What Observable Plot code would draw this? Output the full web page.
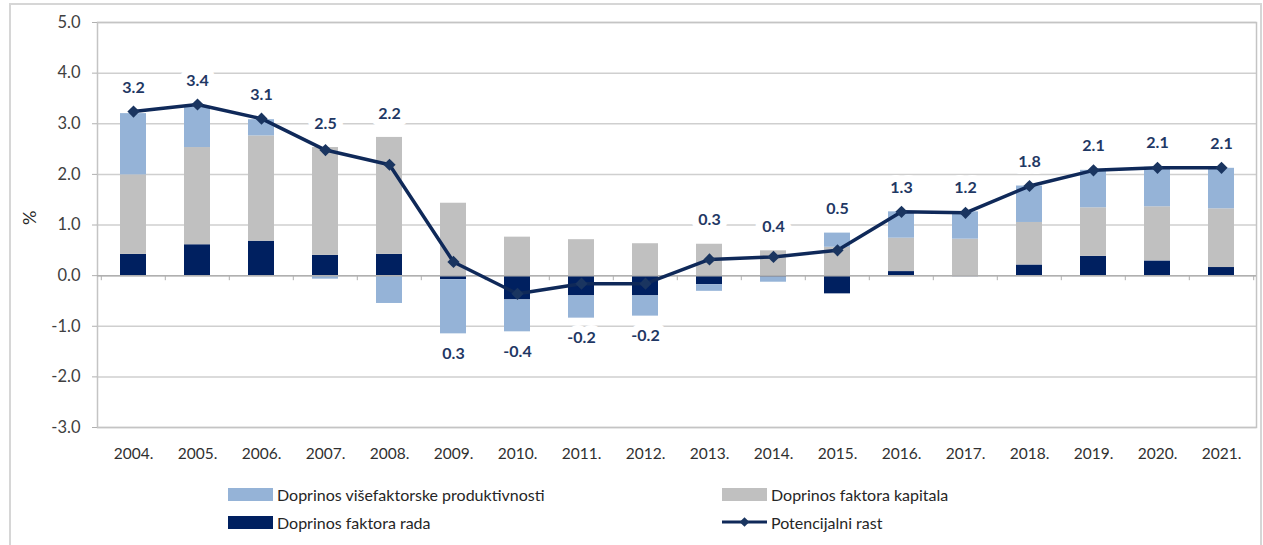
<!DOCTYPE html>
<html>
<head>
<meta charset="utf-8">
<script src="https://cdn.jsdelivr.net/npm/d3@7"></script>
<script src="https://cdn.jsdelivr.net/npm/@observablehq/plot@0.6"></script>
<style>
  body { margin: 0; width: 1263px; height: 545px; overflow: hidden; background: #fff; position: relative; font-family: Lato, "Open Sans", sans-serif; }
  #border { position: absolute; left: 9px; top: 3px; width: 1253px; height: 620px; border: 2px solid #d6d6d6; box-sizing: border-box; }
  #chart { position: absolute; left: 0; top: 0; }
  #legend { position: absolute; left: 228px; top: 484px; display: grid; grid-template-columns: 494px auto; row-gap: 8px; font-size: 16px; color: #262626; }
  .item { display: flex; align-items: center; gap: 4px; height: 20px; white-space: nowrap; }
  .sw { width: 45px; height: 13px; }
</style>
</head>
<body>
<div id="border"></div>
<div id="chart"></div>
<div id="legend"></div>
<script>
const years = ["2004.", "2005.", "2006.", "2007.", "2008.", "2009.", "2010.", "2011.", "2012.",
               "2013.", "2014.", "2015.", "2016.", "2017.", "2018.", "2019.", "2020.", "2021."];
const labor   = [0.42, 0.61, 0.68, 0.40, 0.42, -0.08, -0.48, -0.40, -0.40, -0.18, -0.03, -0.36, 0.08, -0.02, 0.21, 0.38, 0.29, 0.16];
const capital = [1.57, 1.92, 2.08, 2.13, 2.31, 1.43, 0.76, 0.71, 0.63, 0.62, 0.49, 0.56, 0.66, 0.72, 0.84, 0.96, 1.07, 1.16];
const mfp     = [1.21, 0.80, 0.32, -0.07, -0.55, -1.07, -0.63, -0.44, -0.40, -0.13, -0.10, 0.28, 0.52, 0.54, 0.72, 0.74, 0.78, 0.80];
const potential = [3.24, 3.38, 3.10, 2.48, 2.19, 0.27, -0.36, -0.16, -0.16, 0.32, 0.37, 0.50, 1.26, 1.24, 1.77, 2.08, 2.13, 2.13];

const seriesNames = ["Doprinos faktora rada", "Doprinos faktora kapitala", "Doprinos višefaktorske produktivnosti"];
const seriesColors = ["#002060", "#c0c0c0", "#95b3d7"];
const lineName = "Potencijalni rast";
const lineColor = "#0f2959";
const yTicks = [-3, -2, -1, 0, 1, 2, 3, 4, 5];
const yTitle = "%";

const seriesValues = [labor, capital, mfp];
const bars = [];
years.forEach((y, i) => seriesValues.forEach((arr, s) => bars.push({year: y, series: seriesNames[s], value: arr[i]})));

const rows = years.map((y, i) => {
  const vals = seriesValues.map(a => a[i]);
  return {
    year: y,
    v: potential[i],
    top: Math.max(potential[i], d3.sum(vals.filter(v => v > 0))),
    bottom: d3.sum(vals.filter(v => v < 0)),
    label: potential[i].toFixed(1)
  };
});
const above = rows.filter(d => d.v >= 0.3);
const below = rows.filter(d => d.v < 0.3);

const W = 1263, H = 470, mL = 97, mR = 7, mT = 22, mB = 43;
const half = (W - mL - mR) / years.length / 2;

const labelStyle = {text: "label", fontSize: 16, fontWeight: "bold", textAnchor: "middle"};

const plot = Plot.plot({
  width: W, height: H,
  marginLeft: mL, marginRight: mR, marginTop: mT, marginBottom: mB,
  style: {fontFamily: "Lato, 'Open Sans', sans-serif", fontSize: "16px", color: "#404040", background: "transparent"},
  x: {domain: years, paddingInner: 0.6, paddingOuter: 0.3, label: null},
  y: {domain: [-3, 5], label: null},
  color: {domain: seriesNames, range: seriesColors},
  marks: [
    Plot.gridY(yTicks, {stroke: "#cfcfcf", strokeOpacity: 1, strokeWidth: 1.5}),
    Plot.text(above, {...labelStyle, x: "year", y: "top", dy: -24, fill: "white", stroke: "white", strokeWidth: 14}),
    Plot.text(below, {...labelStyle, x: "year", y: "bottom", dy: 20, fill: "white", stroke: "white", strokeWidth: 14}),
    Plot.frame({stroke: "#c4c4c4", strokeWidth: 1.5}),
    Plot.axisY(yTicks, {tickSize: 5, tickPadding: 12, tickFormat: d => d.toFixed(1), stroke: "#b0b0b0", fontSize: 16.5}),
    Plot.axisX({tickSize: 0, tickPadding: 20, fontSize: 15.5, fill: "#303030"}),
    Plot.text([yTitle], {frameAnchor: "left", dx: -67, rotate: -90, fontSize: 18, fill: "#262626"}),
    Plot.barY(bars, {x: "year", y: "value", fill: "series"}),
    Plot.ruleY([0], {stroke: "#b0b0b0", strokeWidth: 1.5}),
    Plot.ruleX(years, {x: d => d, y1: 0, y2: -0.1, dx: -half, stroke: "#b0b0b0"}),
    Plot.ruleX(years.slice(-1), {x: d => d, y1: 0, y2: -0.1, dx: half, stroke: "#b0b0b0"}),
    Plot.line(rows, {x: "year", y: "v", stroke: lineColor, strokeWidth: 3.5}),
    Plot.dot(rows, {x: "year", y: "v", symbol: "diamond2", r: 5.5, fill: "#1a3560", stroke: "none"}),
    Plot.text(above, {...labelStyle, x: "year", y: "top", dy: -24, fill: "#1f3864"}),
    Plot.text(below, {...labelStyle, x: "year", y: "bottom", dy: 20, fill: "#1f3864"})
  ]
});
document.getElementById("chart").appendChild(plot);

// legend
const legendItems = [
  {name: seriesNames[2], color: seriesColors[2], kind: "bar"},
  {name: seriesNames[1], color: seriesColors[1], kind: "bar"},
  {name: seriesNames[0], color: seriesColors[0], kind: "bar"},
  {name: lineName, color: lineColor, kind: "line"}
];
const legend = document.getElementById("legend");
legendItems.forEach(it => {
  const div = document.createElement("div");
  div.className = "item";
  if (it.kind === "bar") {
    const sw = document.createElement("span");
    sw.className = "sw";
    sw.style.background = it.color;
    div.appendChild(sw);
  } else {
    const ns = "http://www.w3.org/2000/svg";
    const svg = document.createElementNS(ns, "svg");
    svg.setAttribute("width", 45); svg.setAttribute("height", 14);
    const ln = document.createElementNS(ns, "line");
    ln.setAttribute("x1", 0); ln.setAttribute("x2", 45); ln.setAttribute("y1", 7); ln.setAttribute("y2", 7);
    ln.setAttribute("stroke", it.color); ln.setAttribute("stroke-width", 3);
    const dm = document.createElementNS(ns, "path");
    dm.setAttribute("d", d3.symbol(d3.symbolDiamond2, 60)());
    dm.setAttribute("transform", "translate(22.5,7)");
    dm.setAttribute("fill", "#1a3560");
    svg.appendChild(ln); svg.appendChild(dm);
    div.appendChild(svg);
  }
  const t = document.createElement("span");
  t.textContent = it.name;
  div.appendChild(t);
  legend.appendChild(div);
});
</script>
</body>
</html>
